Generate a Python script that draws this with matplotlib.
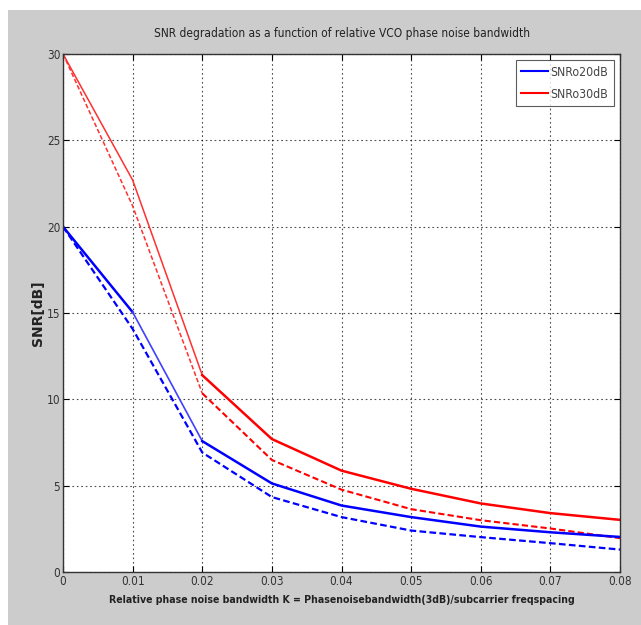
import matplotlib.pyplot as plt
from matplotlib.patches import Rectangle

# data
k = [0.0, 0.01, 0.02, 0.03, 0.04, 0.05, 0.06, 0.07, 0.08]
snr20_solid = [20.0, 15.05, 7.58, 5.13, 3.85, 3.18, 2.63, 2.3, 2.03]
snr20_dash = [20.0, 14.08, 6.92, 4.34, 3.18, 2.4, 2.02, 1.67, 1.3]
snr30_solid = [30.0, 22.7, 11.4, 7.7, 5.87, 4.82, 3.97, 3.41, 3.02]
snr30_dash = [30.0, 21.2, 10.35, 6.49, 4.77, 3.64, 3.0, 2.52, 1.96]

xticks = [0, 0.01, 0.02, 0.03, 0.04, 0.05, 0.06, 0.07, 0.08]
xticklabels = ['0', '0.01', '0.02', '0.03', '0.04', '0.05', '0.06', '0.07', '0.08']
yticks = [0, 5, 10, 15, 20, 25, 30]

plt.rcParams['font.family'] = ['DejaVu Sans']
plt.rcParams['font.stretch'] = 'condensed'

fig = plt.figure(figsize=(6.41, 6.25), dpi=100)
fig.patch.set_facecolor('white')
fig.patches.append(Rectangle((8 / 641, 0), 1, 1 - 10 / 625, transform=fig.transFigure,
                             facecolor='#cccccc', edgecolor='none', zorder=-10))

ax = fig.add_axes([63 / 641, 1 - 572 / 625, (620 - 63) / 641, (572 - 54) / 625])
ax.set_facecolor('white')

dash = (0, (3, 1.5))
# steep segments look thinner in the original
ax.plot(k[:3], snr30_solid[:3], color='#ff3030', lw=1.1)
ax.plot(k[2:], snr30_solid[2:], color='#ff0000', lw=1.8)
ax.plot(k[:3], snr30_dash[:3], color='#ff3030', lw=1.1, ls=dash)
ax.plot(k[2:], snr30_dash[2:], color='#ff0000', lw=1.5, ls=dash)
ax.plot(k[:2], snr20_solid[:2], color='#0000ff', lw=1.8)
ax.plot(k[1:3], snr20_solid[1:3], color='#4040ff', lw=1.2)
ax.plot(k[2:], snr20_solid[2:], color='#0000ff', lw=1.8)
ax.plot(k, snr20_dash, color='#0000ff', lw=1.6, ls=dash)

# legend proxies
ax.plot([], [], color='#0000ff', lw=1.5, label='SNRo20dB')
ax.plot([], [], color='#ff0000', lw=1.5, label='SNRo30dB')

ax.set_xlim(0, 0.08)
ax.set_ylim(0, 30)
ax.set_xticks(xticks)
ax.set_xticklabels(xticklabels)
ax.set_yticks(yticks)
ax.tick_params(direction='in', top=True, right=True, labelsize=8.5, length=4,
               labelcolor='#333333', pad=2)
ax.grid(True, color='black', ls=(0, (1.5, 2.5)), lw=0.8, alpha=0.7)
for s in ax.spines.values():
    s.set_color('#333333')
    s.set_linewidth(1.0)

ax.set_title('SNR degradation as a function of relative VCO phase noise bandwidth',
             fontsize=8.6, pad=12, color='#222222')
ax.set_xlabel('Relative phase noise bandwidth K = Phasenoisebandwidth(3dB)/subcarrier freqspacing',
              fontsize=7.6, fontweight='bold', labelpad=5, color='#222222')
ax.set_ylabel('SNR[dB]', fontsize=10, fontweight='bold', fontstretch='normal',
              labelpad=1, color='#222222')

leg = ax.legend(loc='upper right', fontsize=8.8, frameon=True, fancybox=False,
                borderaxespad=0.5, handlelength=2.2, handletextpad=0.2,
                labelspacing=0.75, borderpad=0.45)
leg.get_frame().set_edgecolor('#333333')
leg.get_frame().set_linewidth(0.8)
for t in leg.get_texts():
    t.set_color('#444444')

fig.savefig('out.png', dpi=100)
